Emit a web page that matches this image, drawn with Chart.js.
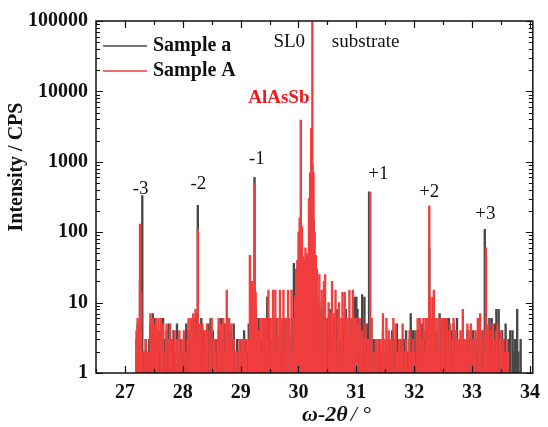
<!DOCTYPE html>
<html>
<head>
<meta charset="utf-8">
<script src="https://cdn.jsdelivr.net/npm/chart.js@4"></script>
<style>
  html, body { margin: 0; padding: 0; background: #fff; }
  #wrap { width: 548px; height: 427px; }
</style>
</head>
<body>
<div id="wrap"><canvas id="xrdChart" width="548" height="427"></canvas></div>
<script>
// === DATA ===
// scan grid: omega-2theta from 27.20 in steps of 0.02 deg
const scanStart = 27.2;
const scanStep = 0.02;

// Sample a (grey), counts per second
const sampleLower = [
    3, 5, 4, 20, 6, 330, 2, 1, 3, 2,
    1, 3, 5, 2, 7, 2, 6, 3, 1, 4,
    2, 4, 1, 6, 3, 1, 4, 2, 5, 1,
    3, 1, 4, 2, 1, 5, 2, 1, 3, 2,
    2, 3, 1, 5, 2, 4, 1, 3, 5, 6,
    2, 5, 7, 240, 3, 2, 6, 1, 4, 2,
    3, 1, 5, 2, 6, 1, 4, 2, 1, 3,
    2, 4, 1, 6, 3, 2, 5, 3, 2, 6,
    2, 4, 1, 3, 5, 2, 1, 3, 2, 1,
    3, 1, 2, 4, 3, 1, 2, 5, 4, 6,
    10, 6, 600, 9, 5, 2, 6, 1, 3, 6,
    2, 5, 3, 12, 1, 6, 3, 2, 6, 1,
    4, 6, 1, 3, 6, 2, 5, 1, 6, 2,
    6, 2, 5, 1, 3, 6, 36, 2, 20, 1,
    8, 1, 44, 3, 30, 1, 12, 2, 1, 20,
    60, 200, 900, 150, 30, 8, 4, 1, 10, 3,
    8, 2, 12, 5, 1, 6, 3, 8, 2, 5,
    6, 1, 4, 8, 2, 5, 3, 1, 6, 4,
    2, 8, 3, 1, 6, 2, 5, 3, 1, 12,
    12, 8, 2, 6, 1, 13, 3, 12, 2, 5,
    4, 375, 2, 6, 1, 3, 2, 3, 1, 2,
    3, 1, 2, 4, 2, 1, 3, 2, 1, 3,
    2, 4, 1, 3, 2, 5, 1, 2, 3, 1,
    2, 3, 1, 4, 2, 1, 3, 7, 2, 4,
    2, 4, 1, 3, 4, 2, 1, 5, 4, 3,
    3, 2, 5, 60, 4, 2, 3, 5, 2, 4,
    3, 2, 7, 4, 2, 6, 1, 6, 3, 6,
    6, 2, 4, 1, 5, 3, 2, 6, 3, 1,
    3, 2, 4, 1, 3, 2, 4, 3, 1, 4,
    2, 4, 1, 3, 2, 4, 1, 3, 2, 4,
    3, 110, 6, 2, 4, 6, 3, 6, 2, 3,
    5, 8, 2, 8, 3, 1, 4, 2, 3, 5,
    2, 1, 3, 4, 1, 4, 2, 3, 1, 8,
    2, 1, 3
];

// Sample A (red), counts per second
const sampleUpper = [
    4, 6, 5, 130, 14, 2, 1, 2, 3, 1,
    2, 1, 7, 2, 6, 1, 5, 6, 2, 6,
    1, 6, 2, 5, 1, 2, 5, 1, 3, 5,
    2, 3, 1, 4, 2, 3, 1, 4, 2, 3,
    1, 4, 2, 1, 3, 6, 1, 6, 2, 7,
    6, 8, 3, 110, 2, 5, 1, 5, 2, 4,
    2, 5, 1, 4, 2, 6, 1, 3, 2, 1,
    3, 6, 2, 5, 1, 6, 2, 5, 15, 2,
    6, 3, 5, 2, 3, 1, 2, 2, 1, 3,
    2, 3, 1, 3, 2, 3, 1, 3, 47, 9,
    20, 8, 500, 14, 6, 3, 4, 6, 2, 6,
    6, 1, 6, 3, 15, 2, 6, 1, 15, 6,
    15, 2, 6, 3, 15, 1, 6, 15, 2, 6,
    3, 15, 6, 1, 15, 2, 6, 12, 30, 40,
    100, 160, 3900, 120, 45, 40, 60, 50, 45, 300,
    700, 3000, 97000, 700, 100, 47, 30, 2, 25, 6,
    15, 2, 20, 25, 6, 1, 10, 2, 7, 20,
    3, 7, 15, 2, 6, 10, 1, 6, 14, 2,
    14, 6, 2, 6, 15, 3, 6, 15, 2, 6,
    6, 5, 1, 6, 2, 4, 1, 3, 5, 2,
    3, 2, 370, 6, 1, 2, 1, 3, 2, 3,
    1, 3, 2, 7, 1, 3, 6, 2, 4, 1,
    3, 2, 6, 1, 5, 2, 1, 3, 2, 3,
    5, 1, 2, 3, 1, 2, 4, 2, 1, 3,
    2, 1, 4, 6, 2, 6, 1, 3, 6, 2,
    6, 4, 6, 236, 12, 6, 12, 15, 6, 2,
    6, 2, 6, 1, 6, 3, 6, 1, 6, 4,
    2, 5, 1, 3, 6, 2, 4, 1, 3, 2,
    4, 2, 8, 1, 3, 2, 5, 4, 2, 5,
    1, 3, 2, 4, 1, 6, 2, 7, 3, 1,
    4, 2, 60, 3, 5, 2, 4, 1, 5, 3,
    2, 4, 5, 1, 3, 4, 1, 3, 2, 1,
    3, 2, 1
];

const xTicks = [27, 28, 29, 30, 31, 32, 33, 34];
const yTicks = [1, 10, 100, 1000, 10000, 100000];

const legendNames = ['Sample a', 'Sample A'];

// peak labels: [text, x (deg), y (cps)]
const peakLabels = [
    ['-3', 27.27, 411],
    ['-2', 28.27, 484],
    ['-1', 29.28, 1096],
    ['SL0', 29.84, 50400],
    ['substrate', 31.16, 50400],
    ['+1', 31.38, 671],
    ['+2', 32.26, 372],
    ['+3', 33.23, 181]
];
const layerLabel = ['AlAsSb', 29.66, 8050];

const COLORS = { grey: '#474747', red: '#f03d3d' };
const SERIF = '"Liberation Serif", "Times New Roman", serif';

function toPoints(values) {
    return values.map((v, i) => ({ x: +(scanStart + i * scanStep).toFixed(2), y: v }));
}

// === DECORATION PLUGIN ===
const decorPlugin = {
    id: 'decor',
    afterDraw(chart) {
        const { ctx, chartArea: a, scales } = chart;
        const xs = scales.x, ys = scales.y;
        ctx.save();
        ctx.strokeStyle = '#111';
        ctx.lineWidth = 1.5;
        ctx.strokeRect(a.left, a.top, a.right - a.left, a.bottom - a.top);

        // x ticks, inward, top + bottom
        ctx.lineWidth = 1.2;
        for (let v = 26.5; v <= 34.01; v += 0.5) {
            const px = Math.round(xs.getPixelForValue(v)) + 0.5;
            const len = Number.isInteger(v) ? 7 : 4;
            ctx.beginPath();
            ctx.moveTo(px, a.bottom); ctx.lineTo(px, a.bottom - len);
            ctx.moveTo(px, a.top); ctx.lineTo(px, a.top + len);
            ctx.stroke();
        }
        // y ticks, inward, left + right
        for (let d = 1; d <= 100000; d *= 10) {
            for (let m = 1; m <= 9; m++) {
                const v = d * m;
                if (v > 100000) break;
                const py = Math.round(ys.getPixelForValue(v)) + 0.5;
                const len = m === 1 ? 7 : 4;
                ctx.beginPath();
                ctx.moveTo(a.left, py); ctx.lineTo(a.left + len, py);
                ctx.moveTo(a.right, py); ctx.lineTo(a.right - len, py);
                ctx.stroke();
            }
        }

        // legend
        const legendY = [46, 71];
        const legendColors = [COLORS.grey, COLORS.red];
        ctx.font = 'bold 20px ' + SERIF;
        ctx.textBaseline = 'middle';
        ctx.textAlign = 'left';
        legendNames.forEach((name, i) => {
            ctx.strokeStyle = legendColors[i];
            ctx.lineWidth = 1.6;
            ctx.beginPath();
            ctx.moveTo(103, legendY[i]); ctx.lineTo(147, legendY[i]);
            ctx.stroke();
            ctx.fillStyle = '#111';
            ctx.fillText(name, 153, legendY[i]);
        });

        // peak annotations
        ctx.font = '19px ' + SERIF;
        ctx.textAlign = 'center';
        ctx.fillStyle = '#111';
        peakLabels.forEach(([t, x, y]) => {
            ctx.fillText(t, xs.getPixelForValue(x), ys.getPixelForValue(y));
        });
        ctx.font = 'bold 19px ' + SERIF;
        ctx.fillStyle = '#f01818';
        ctx.fillText(layerLabel[0], xs.getPixelForValue(layerLabel[1]), ys.getPixelForValue(layerLabel[2]));

        // axis titles
        ctx.fillStyle = '#111';
        ctx.font = 'bold italic 22px ' + SERIF;
        ctx.textAlign = 'left';
        ctx.fillText('\u03c9-2\u03b8', 302, 415);
        const w = ctx.measureText('\u03c9-2\u03b8').width;
        ctx.font = 'italic 22px ' + SERIF;
        ctx.fillText('/ \u00b0', 302 + w + 3, 415);

        ctx.translate(17, 167);
        ctx.rotate(-Math.PI / 2);
        ctx.textAlign = 'center';
        ctx.font = 'bold 20px ' + SERIF;
        ctx.fillText('Intensity / CPS', 0, 0);
        ctx.restore();
    }
};

// === CHART ===
const ctx = document.getElementById('xrdChart').getContext('2d');
new Chart(ctx, {
    type: 'bar',
    data: {
        datasets: [
            { label: legendNames[1], data: toPoints(sampleUpper), backgroundColor: COLORS.red },
            { label: legendNames[0], data: toPoints(sampleLower), backgroundColor: COLORS.grey }
        ]
    },
    options: {
        responsive: false, animation: false,
        layout: { padding: { left: 0, top: 21, right: 12, bottom: 0 } },
        datasets: { bar: { barThickness: 1.7, grouped: false, borderWidth: 0 } },
        plugins: { legend: { display: false }, tooltip: { enabled: false } },
        scales: {
            x: {
                type: 'linear', min: 26.5, max: 34.05, offset: false,
                afterBuildTicks: s => { s.ticks = xTicks.map(v => ({ value: v })); },
                afterFit: s => { s.height = 54; },
                grid: { display: false, drawTicks: false }, border: { display: false },
                ticks: { color: '#111', padding: 8, font: { family: SERIF, size: 20, weight: 'bold' }, callback: v => v }
            },
            y: {
                type: 'logarithmic', min: 1, max: 100000,
                afterBuildTicks: s => { s.ticks = yTicks.map(v => ({ value: v })); },
                afterFit: s => { s.width = 96; },
                grid: { display: false, drawTicks: false }, border: { display: false },
                ticks: { color: '#111', padding: 8, font: { family: SERIF, size: 20, weight: 'bold' }, callback: v => String(v) }
            }
        }
    },
    plugins: [decorPlugin]
});
</script>
</body>
</html>
